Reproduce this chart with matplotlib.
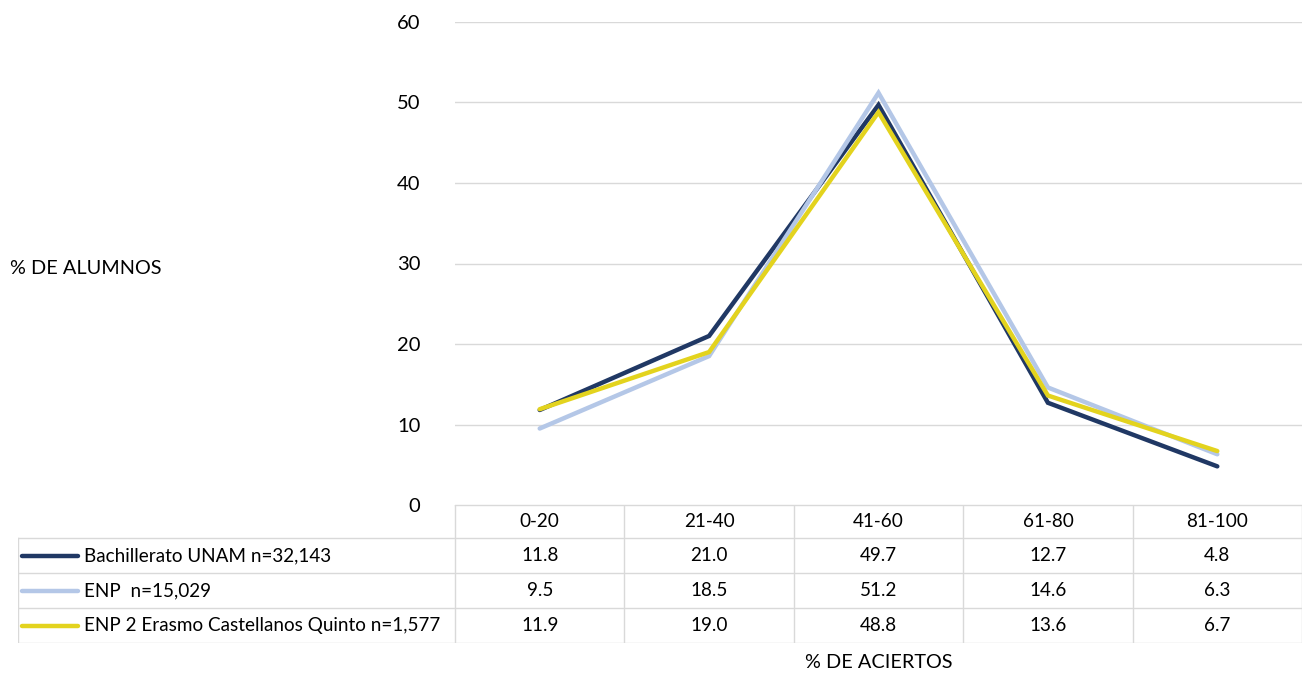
import matplotlib.pyplot as plt
from matplotlib.lines import Line2D

# data
categories = ["0-20", "21-40", "41-60", "61-80", "81-100"]
series_names = ["Bachillerato UNAM n=32,143", "ENP  n=15,029",
                "ENP 2 Erasmo Castellanos Quinto n=1,577"]
bach_unam = [11.8, 21.0, 49.7, 12.7, 4.8]
enp = [9.5, 18.5, 51.2, 14.6, 6.3]
enp2 = [11.9, 19.0, 48.8, 13.6, 6.7]
colors = ["#203864", "#B4C7E7", "#E3D31E"]

plt.rcParams['font.family'] = ['Lato', 'DejaVu Sans']
W, H = 1306, 675
fig = plt.figure(figsize=(W / 100, H / 100), dpi=100)

# pixel layout
px_left, px_right = 455, 1302
px_top, px_bottom = 22, 505
tbl_left = 18
row_h = [33, 35, 35, 35]

ax = fig.add_axes([px_left / W, 1 - px_bottom / H,
                   (px_right - px_left) / W, (px_bottom - px_top) / H])
x = list(range(len(categories)))
for vals, c in zip([bach_unam, enp, enp2], colors):
    ax.plot(x, vals, color=c, lw=3.2, solid_capstyle='round', solid_joinstyle='miter')
ax.set_xlim(-0.5, len(categories) - 0.5)
ax.set_ylim(0, 60)
ax.set_yticks(range(0, 61, 10))
ax.set_xticks([])
ax.yaxis.grid(True, color="#D9D9D9", lw=1)
ax.set_axisbelow(True)
for s in ax.spines.values():
    s.set_visible(False)
ax.tick_params(axis='y', length=0, pad=25, labelsize=14.5, labelcolor="#000000")

# data table
tbl_h = sum(row_h)
tax = fig.add_axes([tbl_left / W, 1 - (px_bottom + tbl_h) / H,
                    (px_right - tbl_left) / W, tbl_h / H])
tax.set_xlim(tbl_left, px_right)
tax.set_ylim(px_bottom + tbl_h, px_bottom)
tax.axis('off')
col_w = (px_right - px_left) / len(categories)
grid_c = "#D9D9D9"
tfs = 13.6

ys = [px_bottom]
for h in row_h:
    ys.append(ys[-1] + h)

# header row
tax.plot([px_left, px_right], [ys[0], ys[0]], color=grid_c, lw=1)
for i, cat in enumerate(categories):
    tax.text(px_left + (i + 0.5) * col_w, (ys[0] + ys[1]) / 2, cat,
             ha='center', va='center', fontsize=tfs)
for r in range(1, len(ys)):
    tax.plot([tbl_left, px_right], [ys[r], ys[r]], color=grid_c, lw=1)
for i in range(len(categories) + 1):
    xx = px_left + i * col_w
    tax.plot([xx, xx], [ys[0], ys[-1]], color=grid_c, lw=1)
tax.plot([tbl_left, tbl_left], [ys[1], ys[-1]], color=grid_c, lw=1)

for r, (name, vals, c) in enumerate(zip(series_names, [bach_unam, enp, enp2], colors)):
    yc = (ys[r + 1] + ys[r + 2]) / 2
    tax.add_line(Line2D([tbl_left + 4, tbl_left + 60], [yc, yc], color=c, lw=3.2,
                        solid_capstyle='round'))
    tax.text(tbl_left + 66, yc, name, ha='left', va='center', fontsize=tfs)
    for i, v in enumerate(vals):
        tax.text(px_left + (i + 0.5) * col_w, yc, f"{v:.1f}",
                 ha='center', va='center', fontsize=tfs)

fig.text(10 / W, 1 - 268 / H, "% DE ALUMNOS", ha='left', va='center', fontsize=14.3)
fig.text((px_left + px_right) / 2 / W, 1 - 663 / H, "% DE ACIERTOS",
         ha='center', va='center', fontsize=14.3)

fig.savefig("out.png", dpi=100)
